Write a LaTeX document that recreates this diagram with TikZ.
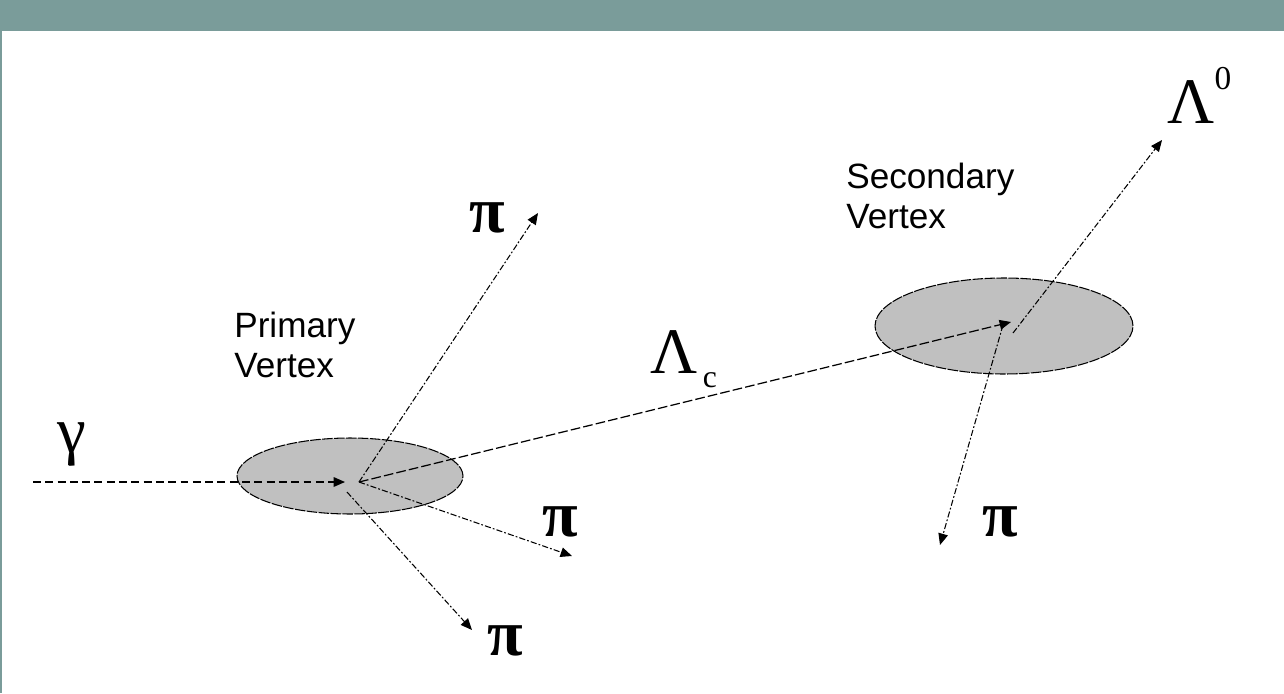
\documentclass[tikz,border=0pt]{standalone}
\usepackage{fontspec}
\setmainfont{Liberation Serif}
\newfontfamily\labelfont{Liberation Sans}
\usetikzlibrary{arrows.meta, shapes.geometric}
\definecolor{framebar}{RGB}{122,156,154}
\definecolor{blobgray}{RGB}{192,192,192}

\begin{document}
\begin{tikzpicture}[
    x=0.02cm, y=-0.02cm,
    blob/.style={ellipse, draw=black, fill=blobgray, line width=0.6pt,
                 dash pattern=on 6pt off 0.8pt, inner sep=0pt},
    trk/.style={-{Triangle[length=6.5pt, width=5.5pt]}, line width=0.6pt,
                dash pattern=on 3.5pt off 1.2pt on 1pt off 1.2pt},
    photon/.style={-{Triangle[length=6.5pt, width=5.5pt]}, line width=0.7pt,
                   dash pattern=on 4.5pt off 2.5pt},
    lamtrk/.style={-{Triangle[length=6.5pt, width=5.5pt]}, line width=0.7pt,
                   dash pattern=on 5.5pt off 1.8pt},
    greek/.style={font=\fontsize{37}{37}\selectfont, inner sep=0pt},
    pion/.style={font=\fontsize{37}{37}\selectfont\bfseries, inner sep=0pt},
    vlabel/.style={font=\labelfont\fontsize{20}{23}\selectfont,
                   align=left, inner sep=0pt},
]
  \useasboundingbox (0,0) rectangle (1284,693);

  % slide frame
  \fill[framebar] (0,0) rectangle (1284,31);
  \fill[framebar] (0,31) rectangle (2,693);

  % vertex regions
  \node[blob, minimum width=4.52cm, minimum height=1.52cm] (pblob) at (350,476) {};
  \node[blob, minimum width=5.16cm, minimum height=1.92cm] (sblob) at (1004,326) {};

  % track end points
  \coordinate (pv)    at (359,482);
  \coordinate (pvlow) at (347,492);
  \coordinate (sv)    at (1011,322);
  \coordinate (svin)  at (1003,325);
  \coordinate (svout) at (1013,333);
  \coordinate (gin)   at (33,482);
  \coordinate (gend)  at (345,482);
  \coordinate (piup)  at (538,213);
  \coordinate (piright) at (572,556);
  \coordinate (pidown)  at (472,630);
  \coordinate (lamzero) at (1162,140);
  \coordinate (pisec)   at (940,545);

  % labels
  \node[vlabel, anchor=west] (plbl) at (234,345) {Primary\\Vertex};
  \node[vlabel, anchor=west] (slbl) at (846,196) {Secondary\\Vertex};
  \node[greek] (gam) at (72,444) {γ};
  \node[pion] (pia) at (487,218) {π};
  \node[pion] (pib) at (560,522) {π};
  \node[pion] (pic) at (505,641) {π};
  \node[pion] (pid) at (1000,522) {π};
  \node[greek, anchor=base west] (lamc) at (650,373)
    {Λ\hspace{3pt}{\fontsize{18}{18}\selectfont\raisebox{-8.5pt}{c}}};
  \node[greek, anchor=base west] (lam0) at (1167,123)
    {Λ{\fontsize{19}{19}\selectfont\raisebox{19pt}{0}}};

  % incoming photon
  \draw[photon] (gin) -- (gend);

  % primary vertex tracks
  \draw[trk] (pv) -- (piup);
  \draw[trk] (pv) -- (piright);
  \draw[trk] (pvlow) -- (pidown);
  \draw[lamtrk] (pv) -- (sv);

  % secondary vertex tracks
  \draw[trk] (svout) -- (lamzero);
  \draw[trk] (svin) -- (pisec);

\end{tikzpicture}
\end{document}
